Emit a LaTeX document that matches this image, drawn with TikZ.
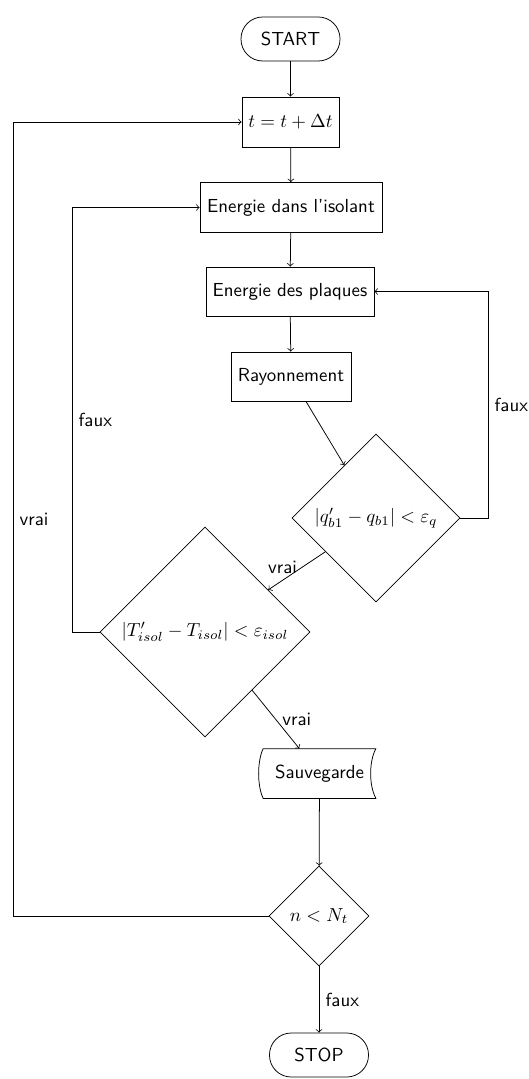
\documentclass[tikz,border=0pt]{standalone}
\usetikzlibrary{shapes.geometric}
\newcommand\pxl{0.53pt}
\begin{document}
\begin{tikzpicture}[x=0.53pt,y=-0.53pt,
  every node/.style={font=\sffamily},
  proc/.style={draw, rectangle, inner sep=0pt, minimum height=49*\pxl},
  term/.style={draw, rectangle, rounded corners=11.5pt, inner sep=0pt, minimum width=99*\pxl, minimum height=44*\pxl},
  dec/.style={draw, diamond, aspect=1, inner sep=0pt},
  flow/.style={->}]
\useasboundingbox (0,0) rectangle (529,1079);
\node[term] (start) at (290.5,39) {START};
\node[proc, minimum width=97*\pxl, minimum height=50*\pxl] (t) at (290.5,122) {$t = t + \Delta t$};
\node[proc, minimum width=182*\pxl, minimum height=50*\pxl] (e1) at (291,207.5) {Energie dans l'isolant};
\node[proc, minimum width=168*\pxl] (e2) at (290,291.5) {Energie des plaques};
\node[proc, minimum width=120*\pxl] (ray) at (291,376.5) {Rayonnement};
\node[dec, minimum size=168*\pxl] (d1) at (376,518) {$|q'_{b1} - q_{b1}| < \varepsilon_q$};
\node[dec, minimum size=210*\pxl] (d2) at (205,632) {$|T'_{isol} - T_{isol}| < \varepsilon_{isol}$};
\node[inner sep=0pt, minimum width=112*\pxl, minimum height=49*\pxl] (sav) at (319.5,773.5) {Sauvegarde};
\draw (sav.north west) -- (sav.north east)
  .. controls ([xshift=-7*\pxl,yshift=-13*\pxl]sav.north east) and ([xshift=-7*\pxl,yshift=13*\pxl]sav.south east) .. (sav.south east)
  -- (sav.south west)
  .. controls ([xshift=-6*\pxl,yshift=13*\pxl]sav.south west) and ([xshift=-6*\pxl,yshift=-13*\pxl]sav.north west) .. (sav.north west);
\node[dec, minimum size=100*\pxl] (d3) at (319,916) {$n < N_t$};
\node[term] (stop) at (319,1055) {STOP};
\draw[flow] (start) -- (t);
\draw[flow] (t) -- (e1);
\draw[flow] (e1) -- (e2);
\draw[flow] (e2) -- (ray);
\draw[flow] (ray) -- (d1);
\draw[flow] (d1) -- node[near end, above] {vrai} (d2);
\coordinate (rf) at (488,518);
\draw[flow] (d1.east) -- (rf) |- node[pos=0.25, right] {faux} (e2.east);
\coordinate (lf) at (72,632);
\draw[flow] (d2.west) -- (lf) |- node[pos=0.25, right] {faux} (e1.west);
\coordinate (lv) at (13,916);
\draw[flow] (d3.west) -- (lv) |- node[pos=0.25, right] {vrai} (t.west);
\draw[flow] (d2) -- node[midway, right] {vrai} (sav);
\draw[flow] (sav) -- (d3);
\draw[flow] (d3) -- node[midway, right] {faux} (stop);
\end{tikzpicture}
\end{document}
